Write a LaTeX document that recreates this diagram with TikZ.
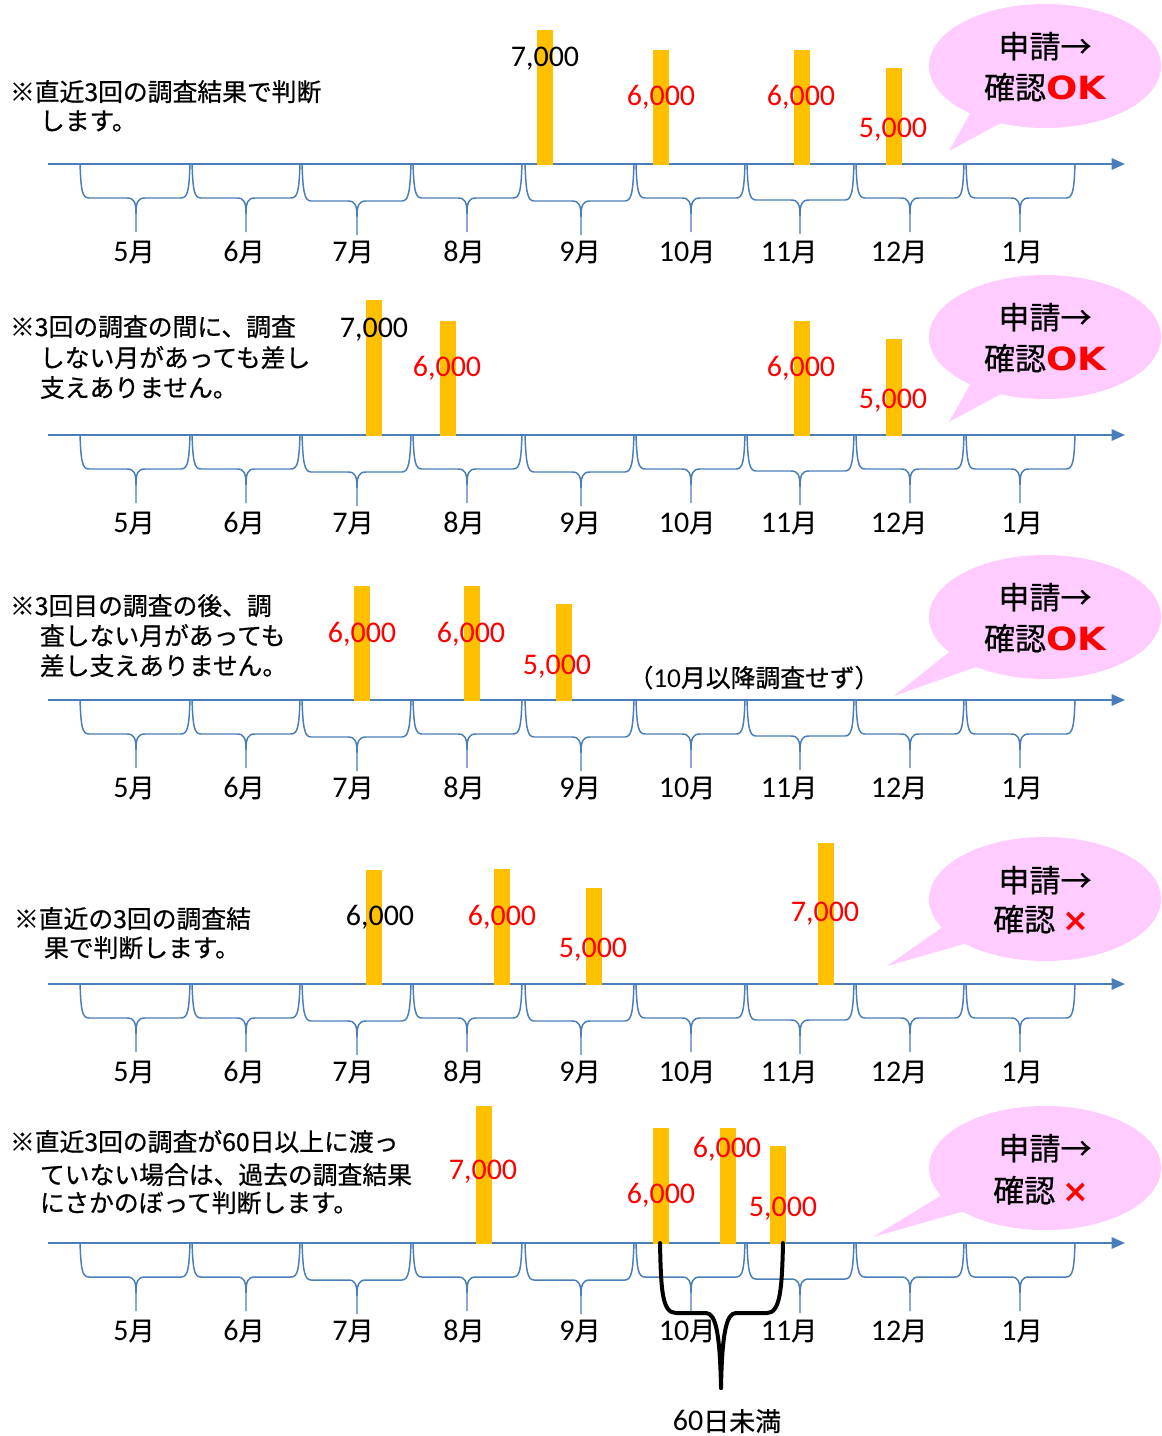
\documentclass[tikz,border=0pt]{standalone}
\usepackage{fontspec}
\setmainfont{Carlito}
\newfontfamily\jp{Noto Sans CJK JP}[FakeBold=0.6]
\newfontfamily\dv{DejaVu Sans}
\usetikzlibrary{arrows.meta}
\definecolor{axisblue}{HTML}{4A7EBB}
\definecolor{barorange}{HTML}{FFC000}
\definecolor{callpink}{HTML}{FFCCFF}
\definecolor{okred}{HTML}{FF0000}
\newcommand{\numf}{\fontsize{22.5}{24}\selectfont}
\newcommand{\jpm}{\jp\fontsize{19.5}{21}\selectfont}
\newcommand{\jpt}{\jp\fontsize{18.6}{20}\selectfont}
\newcommand{\jpc}{\jp\fontsize{23.3}{25}\selectfont}
\newcommand{\mon}[1]{{\numf #1}{\jpm 月}}
\newcommand{\okmark}{{\dv\bfseries\fontsize{24}{25}\selectfont\color{okred}\scalebox{1.15}[1]{OK}}}
\newcommand{\ngmark}{{\dv\bfseries\fontsize{24}{25}\selectfont\color{okred}×}}
% brace below axis: x0, tip x, x1, axis y, depth of horizontal part
\newcommand{\mybrace}[5]{%
  \draw[mbrace] (#1,#4) .. controls (#1+1,#4+26) and (#1+2,#4+#5) .. (#1+9,#4+#5)
     -- (#2-9,#4+#5) .. controls (#2-2,#4+#5) and (#2,#4+#5+4) .. (#2,#4+#5+16)
     -- (#2,#4+#5+34);
  \draw[mbrace] (#3,#4) .. controls (#3-1,#4+26) and (#3-2,#4+#5) .. (#3-9,#4+#5)
     -- (#2+9,#4+#5) .. controls (#2+2,#4+#5) and (#2,#4+#5+4) .. (#2,#4+#5+16);
}
\newcommand{\drawpanel}[2]{%
  \coordinate (ax#1s) at (48,#2);
  \coordinate (ax#1e) at (1125,#2);
  \draw[axisline] (ax#1s) -- (ax#1e);
  \foreach \a/\b/\c/\m/\lx/\h in {80/136/190/5/134/34, 192/246/300/6/244/34,
      302/357/411/7/353/37, 413/467/522/8/464/34, 525/581/634/9/580/37,
      636/691/745/10/687/34, 747/800/854/11/789/36, 856/910/964/12/899/34,
      966/1020/1075/1/1022/34}{%
    \mybrace{\a}{\b}{\c}{#2}{\h}
    \node[monlab] (m#1-\m) at (\lx,#2+87) {\mon{\m}};
  }
}
\newcommand{\drawbar}[3]{\fill[barorange] (#1-8,#2) rectangle (#1+8,#3+1);}
% callout: id, centre y, base1, base2, tip
\newcommand{\drawcallout}[8]{%
  \coordinate (c#1) at (1045,#2);
  \coordinate (c#1a) at (#3,#4);
  \coordinate (c#1b) at (#5,#6);
  \coordinate (c#1t) at (#7,#8);
  \fill[callpink] (c#1) ellipse [x radius=87pt, y radius=46.5pt];
  \fill[callpink] (c#1a) -- (c#1t) -- (c#1b) -- cycle;
}
\tikzset{
  every node/.style={inner sep=0pt, outer sep=0pt},
  numlab/.style={text depth=0pt, font=\numf},
  monlab/.style={text depth=0pt},
  note/.style={anchor=base west, font=\jpt},
  calltext/.style={anchor=base, font=\jpc},
  axisline/.style={draw=axisblue, line width=1.5pt, -{Triangle[length=10pt,width=8.5pt]}},
  mbrace/.style={draw=axisblue, line width=1.1pt},
  blackbrace/.style={draw=black, line width=3pt, line cap=round, line join=round},
}
\begin{document}
\begin{tikzpicture}[x=0.75pt,y=-0.75pt]
\useasboundingbox (0,0) rectangle (1161,1436);
\fill[white] (0,0) rectangle (1161,1436);

% ---------------- panel 1
\drawpanel{1}{164}
\drawbar{545}{30}{164}
\drawbar{661}{50}{164}
\drawbar{802}{50}{164}
\drawbar{894}{68}{164}
\node[numlab] (n1a) at (545,57) {7,000};
\node[numlab, text=okred] (n1b) at (661,95) {6,000};
\node[numlab, text=okred] (n1c) at (801,95) {6,000};
\node[numlab, text=okred] (n1d) at (893,128) {5,000};
\drawcallout{1}{66}{975}{105}{1010}{118}{949}{151}
\node[calltext] (k1a) at (1045,58) {申請→};
\node[calltext] (k1b) at (1045,99) {確認\okmark};
\node[note] (t1a) at (10,101) {※直近3回の調査結果で判断};
\node[note] (t1b) at (40,130) {します。};

% ---------------- panel 2
\drawpanel{2}{435}
\drawbar{374}{300}{435}
\drawbar{448}{321}{435}
\drawbar{802}{321}{435}
\drawbar{894}{339}{435}
\node[numlab] (n2a) at (374,328) {7,000};
\node[numlab, text=okred] (n2b) at (447,366) {6,000};
\node[numlab, text=okred] (n2c) at (801,366) {6,000};
\node[numlab, text=okred] (n2d) at (893,399) {5,000};
\drawcallout{2}{337}{975}{376}{1010}{389}{949}{422}
\node[calltext] (k2a) at (1045,329) {申請→};
\node[calltext] (k2b) at (1045,370) {確認\okmark};
\node[note] (t2a) at (10,336) {※3回の調査の間に、調査};
\node[note] (t2b) at (40,367) {しない月があっても差し};
\node[note] (t2c) at (40,397) {支えありません。};

% ---------------- panel 3
\drawpanel{3}{700}
\drawbar{362}{586}{700}
\drawbar{472}{586}{700}
\drawbar{564}{604}{700}
\node[numlab, text=okred] (n3a) at (362,632) {6,000};
\node[numlab, text=okred] (n3b) at (471,632) {6,000};
\node[numlab, text=okred] (n3c) at (557,665) {5,000};
\node[anchor=base] (n3d) at (754,687) {{\jpt （}{\fontsize{20.5}{22}\selectfont 10}{\jpt 月以降調査せず）}};
\drawcallout{3}{617}{958}{645}{990}{662}{894}{696}
\node[calltext] (k3a) at (1045,609) {申請→};
\node[calltext] (k3b) at (1045,650) {確認\okmark};
\node[note] (t3a) at (10,615) {※3回目の調査の後、調};
\node[note] (t3b) at (40,645) {査しない月があっても};
\node[note] (t3c) at (40,675) {差し支えありません。};

% ---------------- panel 4
\drawpanel{4}{984}
\drawbar{374}{870}{984}
\drawbar{502}{869}{984}
\drawbar{594}{888}{984}
\drawbar{826}{843}{984}
\node[numlab] (n4a) at (380,915) {6,000};
\node[numlab, text=okred] (n4b) at (502,915) {6,000};
\node[numlab, text=okred] (n4c) at (593,948) {5,000};
\node[numlab, text=okred] (n4d) at (825,912) {7,000};
\drawcallout{4}{899}{950}{922}{978}{940}{887}{966}
\node[calltext] (k4a) at (1045,892) {申請→};
\node[calltext] (k4b) at (1041,931) {確認\hspace{5pt}\ngmark};
\node[note] (t4a) at (14,928) {※直近の3回の調査結};
\node[note] (t4b) at (44,957) {果で判断します。};

% ---------------- panel 5
\drawpanel{5}{1243}
\drawbar{484}{1106}{1243}
\drawbar{661}{1128}{1243}
\drawbar{728}{1128}{1243}
\drawbar{778}{1146}{1243}
\node[numlab, text=okred] (n5a) at (483,1170) {7,000};
\node[numlab, text=okred] (n5b) at (661,1193) {6,000};
\node[numlab, text=okred] (n5c) at (727,1147) {6,000};
\node[numlab, text=okred] (n5d) at (783,1207) {5,000};
\drawcallout{5}{1168}{950}{1190}{975}{1208}{873}{1237}
\node[calltext] (k5a) at (1045,1160) {申請→};
\node[calltext] (k5b) at (1041,1202) {確認\hspace{5pt}\ngmark};
\node[note] (t5a) at (10,1151) {※直近3回の調査が60日以上に渡っ};
\node[note] (t5b) at (40,1184) {ていない場合は、過去の調査結果};
\node[note] (t5c) at (40,1212) {にさかのぼって判断します。};

% black brace: under 60 days
\coordinate (bl) at (660,1243);
\coordinate (br) at (783,1243);
\coordinate (bt) at (721,1388);
\draw[blackbrace] (bl) .. controls (661,1290) and (662,1313) .. (676,1313)
   -- (706,1313) .. controls (716,1313) and (720,1335) .. (bt);
\draw[blackbrace] (br) .. controls (782,1290) and (780,1313) .. (767,1313)
   -- (736,1313) .. controls (726,1313) and (722,1335) .. (bt);
\node[monlab] (d60) at (727,1420) {{\numf 60}{\jpm 日未満}};
\end{tikzpicture}
\end{document}
